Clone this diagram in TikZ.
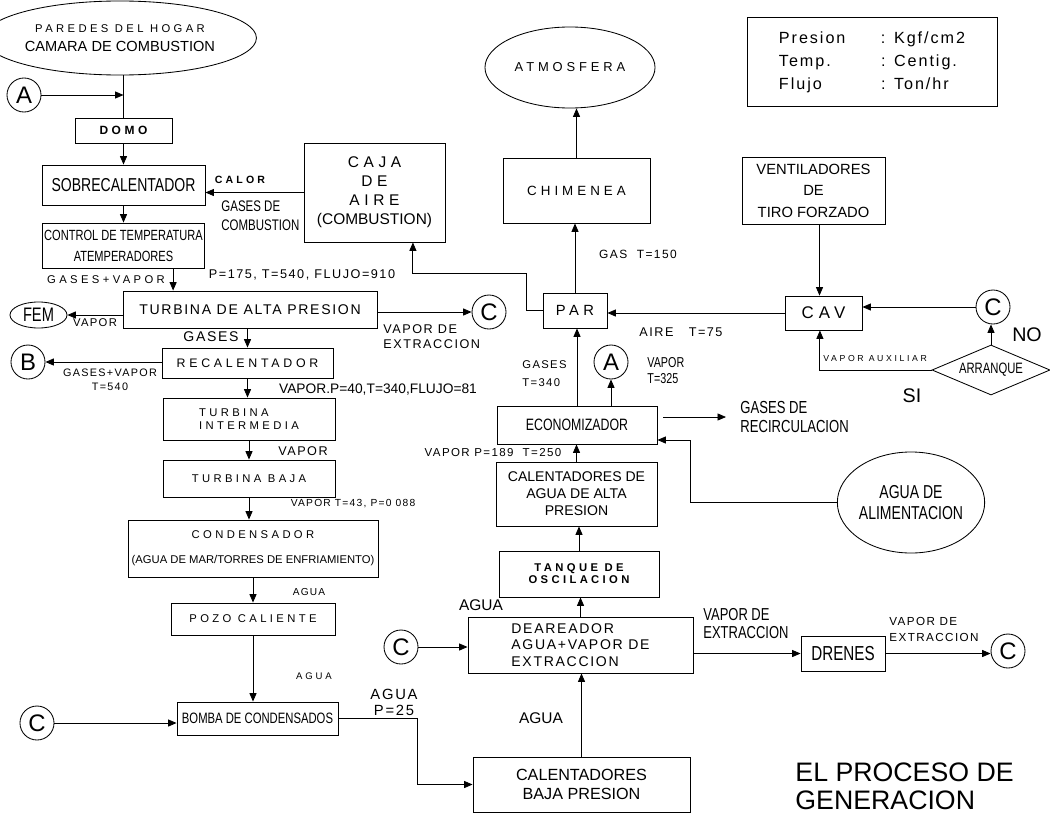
\documentclass[tikz,border=0pt]{standalone}
\usepackage{fontspec}
\setmainfont{Liberation Sans}
\newfontfamily\widefont[LetterSpace=12]{Liberation Sans}
\newfontfamily\widerfont[LetterSpace=30]{Liberation Sans}
\newfontfamily\narrowfont[FakeStretch=0.75]{Liberation Sans}
\newcommand{\fntw}[2]{\widefont\fontsize{#1}{#2}\selectfont}
\newcommand{\fntx}[2]{\widerfont\fontsize{#1}{#2}\selectfont}
\newcommand{\fntn}[2]{\narrowfont\fontsize{#1}{#2}\selectfont}
\newcommand{\fntr}[2]{\rmfamily\fontsize{#1}{#2}\selectfont}
\usetikzlibrary{arrows.meta,shapes.geometric}
\tikzset{
	blk/.style={draw, inner sep=1pt, align=center},
	lbl/.style={inner sep=0pt, align=center},
	conn/.style={draw, circle, minimum size=.85cm, inner sep=0pt, font=\fntr{17}{17}},
	arr/.style={-{Triangle[length=6pt,width=5pt]}},
}
\begin{document}
\begin{tikzpicture}[x=.025cm, y=-.025cm, line width=.6pt]
	\useasboundingbox (0,0) rectangle (1050,815);
	\node[blk, ellipse, minimum width=5.75cm, minimum height=1.85cm, font=\fntr{10.4}{14}] (hogar) at (120,38) {{\fntx{8}{14}PAREDES DEL HOGAR}\\CAMARA DE COMBUSTION};
	\node[blk, minimum width=2.425cm, minimum height=.625cm, font=\fntx{8.5}{10}\bfseries] (domo) at (123.5,130.5) {DOMO};
	\node[blk, minimum width=4.075cm, minimum height=1cm, font=\fntn{13.3}{15}] (sobre) at (123.5,185) {SOBRECALENTADOR};
	\node[blk, minimum width=4.025cm, minimum height=1.125cm, font=\fntn{10.5}{15}] (control) at (123.5,245.5) {CONTROL DE TEMPERATURA\\ATEMPERADORES};
	\node[blk, minimum width=3.525cm, minimum height=2.475cm, font=\fntx{11}{13.5}] (caja) at (374.5,192.5) {CAJA\\DE\\AIRE\\{\rmfamily(COMBUSTION)}};
	\node[blk, minimum width=6.35cm, minimum height=.925cm, font=\fntw{10}{12}] (talta) at (250,309.5) {TURBINA DE ALTA PRESION};
	\node[blk, ellipse, minimum width=1.425cm, minimum height=.65cm, inner sep=0pt, font=\fntn{13.9}{14}] (fem) at (38.5,315) {FEM};
	\node[blk, minimum width=4.275cm, minimum height=.75cm, font=\fntx{8.8}{10}] (recal) at (247.5,363) {RECALENTADOR};
	\node[blk, align=left, minimum width=4.3cm, minimum height=1.05cm, font=\fntx{8}{9.2}] (tinter) at (249,419) {TURBINA\\INTERMEDIA};
	\node[blk, minimum width=4.3cm, minimum height=.925cm, font=\fntx{8}{10}] (tbaja) at (249,478.5) {TURBINA BAJA};
	\node[blk, minimum width=6.25cm, minimum height=1.425cm, font=\fntx{8}{17.8}] (cond) at (253,548.5) {CONDENSADOR\\{\fntr{8}{17.8}(AGUA DE MAR/TORRES DE ENFRIAMIENTO)}};
	\node[blk, minimum width=4.1cm, minimum height=.8cm, font=\fntx{8}{10}] (pozo) at (253,619) {POZO CALIENTE};
	\node[blk, minimum width=4.025cm, minimum height=.825cm, font=\fntn{10.7}{12}] (bomba) at (257.5,718.5) {BOMBA DE CONDENSADOS};
	\node[blk, minimum width=5.425cm, minimum height=1.375cm, font=\fntr{11.5}{13.5}] (calbaja) at (581.5,784.5) {CALENTADORES\\BAJA PRESION};
	\node[blk, align=left, minimum width=5.625cm, minimum height=1.4cm, font=\fntw{10}{11.7}] (dear) at (580.5,645) {DEAREADOR\\AGUA+VAPOR DE\\EXTRACCION};
	\node[blk, minimum width=4cm, minimum height=1.15cm, font=\fntx{8}{8.5}\bfseries] (tanque) at (579,574) {TANQUE DE\\OSCILACION};
	\node[blk, minimum width=4.025cm, minimum height=1.6cm, font=\fntr{10}{12}] (calalta) at (576.5,494) {CALENTADORES DE\\AGUA DE ALTA\\PRESION};
	\node[blk, minimum width=4cm, minimum height=.95cm, font=\fntn{11.7}{13}] (econ) at (577,425) {ECONOMIZADOR};
	\node[blk, minimum width=1.6cm, minimum height=.875cm, font=\fntx{10.5}{12}] (par) at (575,310.5) {PAR};
	\node[blk, minimum width=3.675cm, minimum height=1.625cm, font=\fntx{9.5}{12}] (chim) at (576.5,190.5) {CHIMENEA};
	\node[blk, ellipse, minimum width=4.25cm, minimum height=2.025cm, font=\fntx{9.2}{12}] (atm) at (570,67.5) {ATMOSFERA};
	\node[blk, minimum width=1.925cm, minimum height=.85cm, font=\fntx{12}{14}] (cav) at (823.5,313) {CAV};
	\node[blk, minimum width=3.575cm, minimum height=1.675cm, font=\fntr{10.5}{15.3}] (vent) at (813.5,190.5) {VENTILADORES\\DE\\TIRO FORZADO};
	\node[blk, diamond, aspect=2.4, inner sep=0pt, minimum width=2.95cm, minimum height=1.25cm, font=\fntn{10.7}{12}] (arranque) at (991,370) {ARRANQUE};
	\node[blk, minimum width=2.1cm, minimum height=.875cm, font=\fntn{14.4}{15}] (drenes) at (843,653.5) {DRENES};
	\node[blk, ellipse, minimum width=3.1cm, minimum height=2.525cm, inner sep=0pt, font=\fntn{13.3}{15}] (agua) at (911,502.5) {AGUA DE\\ALIMENTACION};
	\node[blk, minimum width=6.25cm, minimum height=2.225cm, font=\fntw{11.5}{16.4}] (leyenda) at (872,61.5) {\begin{tabular}{@{}p{2.55cm}@{}l@{}}Presion & : Kgf/cm2\\Temp. & : Centig.\\Flujo & : Ton/hr\end{tabular}};
	\foreach \n/\x/\y/\t in {a1/24/95/A, b1/28/362/B, c1/489/312/C, c2/37/723/C, c3/401/647/C, a2/611/362/A, c4/993/307/C, c5/1008/651/C}
	\node[conn] (\n) at (\x,\y) {\t};

	\draw (domo.north) -- (domo.north |- hogar.south);
	\draw[arr] (a1) -- (a1 -| domo.north);
	\draw[arr] (domo) -- (sobre);
	\draw[arr] (caja.west) -- (caja.west -| sobre.east);
	\draw[arr] (sobre) -- (control);
	\draw[arr] ([xshift=1.24cm]control.south) -- ([xshift=1.24cm]control.south |- talta.north);
	\draw[arr] (talta.west |- fem) -- (fem);
	\draw[arr] (talta.east |- c1) -- (c1);
	\draw[arr] (recal.north |- talta.south) -- (recal.north);
	\draw[arr] (recal.west |- b1) -- (b1);
	\draw[arr] (recal.south) -- (recal.south |- tinter.north);
	\draw[arr] (tinter) -- (tbaja);
	\draw[arr] (tbaja.south) -- (tbaja.south |- cond.north);
	\draw[arr] (cond.south) -- (cond.south |- pozo.north);
	\draw[arr] (pozo.south) -- (pozo.south |- bomba.north);
	\draw[arr] (c2) -- (c2 -| bomba.west);
	\draw[arr] (bomba.east) -- ++(79,0) |- (calbaja.west);
	\draw[arr] (calbaja.north) -- (calbaja.north |- dear.south);
	\draw[arr] (c3) -- (c3 -| dear.west);
	\draw[arr] (dear.north) -- (dear.north |- tanque.south);
	\draw[arr] (tanque.north) -- (tanque.north |- calalta.south);
	\draw[arr] (calalta.north) -- (calalta.north |- econ.south);
	\draw[arr] (econ.north) -- (econ.north |- par.south);
	\draw[arr] (a2 |- econ.north) -- (a2);
	\draw[arr] (agua.west) -- ++(-147,0) |- ([yshift=-.375cm]econ.east);
	\draw[arr] (par.north) -- (par.north |- chim.south);
	\draw[arr] (chim.north) -- (chim.north |- atm.south);
	\draw[arr] (par.west) -- ++(-16,0) -- ++(0,-37) -| ([xshift=.96cm]caja.south);
	\draw[arr] (cav.west) -- (cav.west -| par.east);
	\draw[arr] ([xshift=.15cm]vent.south) -- ([xshift=.15cm]vent.south |- cav.north);
	\draw[arr] (c4) -- (c4 -| cav.east);
	\draw[arr] (arranque.north) -- (arranque.north |- c4.south);
	\draw[arr] (arranque.west) -| ([xshift=-.09cm]cav.south);
	\draw[arr] (dear.east |- drenes.west) -- (drenes.west);
	\draw[arr] (drenes.east) -- (drenes.east -| c5.west);

	\node[lbl, font=\fntx{7.5}{9}\bfseries] (lcalor) at (240,180) {CALOR};
	\node[lbl, anchor=west, align=left, font=\fntn{10.9}{13.5}] (lgcomb) at (221,216) {GASES DE\\COMBUSTION};
	\node[lbl, font=\fntx{8}{10}] (lgv1) at (106,280) {GASES+VAPOR};
	\node[lbl, font=\fntw{9}{11}] (lp175) at (302,275) {P=175, T=540, FLUJO=910};
	\node[lbl, font=\fntw{8}{10}] (lvap1) at (95,323) {VAPOR};
	\node[lbl, anchor=west, align=left, font=\fntw{9}{10.7}] (lext1) at (383,337) {VAPOR DE\\EXTRACCION};
	\node[lbl, font=\fntw{10}{12}] (lgas1) at (211,337) {GASES};
	\node[lbl, font=\fntw{7.7}{10}] (lgv2) at (110,380) {GASES+VAPOR\\T=540};
	\node[lbl, font=\fntr{9.8}{12}] (lp40) at (378,390) {VAPOR.P=40,T=340,FLUJO=81};
	\node[lbl, font=\fntw{9}{11}] (lvap2) at (303,451) {VAPOR};
	\node[lbl, font=\fntw{7.3}{9}] (lt43) at (353,504) {VAPOR T=43, P=0 088};
	\node[lbl, font=\fntw{7.2}{9}] (lagua1) at (309,592) {AGUA};
	\node[lbl, font=\fntx{6.8}{9}] (lagua2) at (314,676) {AGUA};
	\node[lbl, font=\fntw{10.5}{11.4}] (lp25) at (394,702) {AGUA\\P=25};
	\node[lbl, font=\fntr{11}{13}] (lagua3) at (541,718) {AGUA};
	\node[lbl, font=\fntr{11}{13}] (lagua4) at (481,605) {AGUA};
	\node[lbl, font=\fntw{8.2}{10}] (lp189) at (493,453) {VAPOR P=189~~T=250};
	\node[lbl, anchor=west, align=left, font=\fntw{8}{12.8}] (lgt340) at (522,374) {GASES\\T=340};
	\node[lbl, anchor=west, align=left, font=\fntn{10.2}{11.4}] (lvt325) at (647,371) {VAPOR\\T=325};
	\node[lbl, anchor=west, align=left, inner xsep=.35cm, font=\fntn{12.4}{14.2}] (recirc) at (726,417) {GASES DE\\RECIRCULACION};
	\draw[arr] ([xshift=.15cm]econ.east |- recirc.west) -- (recirc.west);
	\node[lbl, font=\fntw{8.5}{10}] (lgas150) at (638,254) {GAS~~T=150};
	\node[lbl, font=\fntw{9}{11}] (laire) at (681,332) {AIRE\hspace{1.2em}T=75};
	\node[lbl, anchor=west, font=\fntx{6.2}{8}] (laux) at (823,358) {VAPOR AUXILIAR};
	\node[lbl, font=\fntr{14}{14}] (lno) at (1027,335) {NO};
	\node[lbl, font=\fntr{14}{14}] (lsi) at (912,396) {SI};
	\node[lbl, anchor=west, align=left, font=\fntn{12.3}{12.8}] (lext2) at (703,624) {VAPOR DE\\EXTRACCION};
	\node[lbl, anchor=west, align=left, font=\fntw{8.3}{11.4}] (lext3) at (889,629) {VAPOR DE\\EXTRACCION};
	\node[lbl, anchor=west, align=left, font=\fntr{19}{20}] (titulo) at (795,786) {EL PROCESO DE\\GENERACION};
\end{tikzpicture}
\end{document}
